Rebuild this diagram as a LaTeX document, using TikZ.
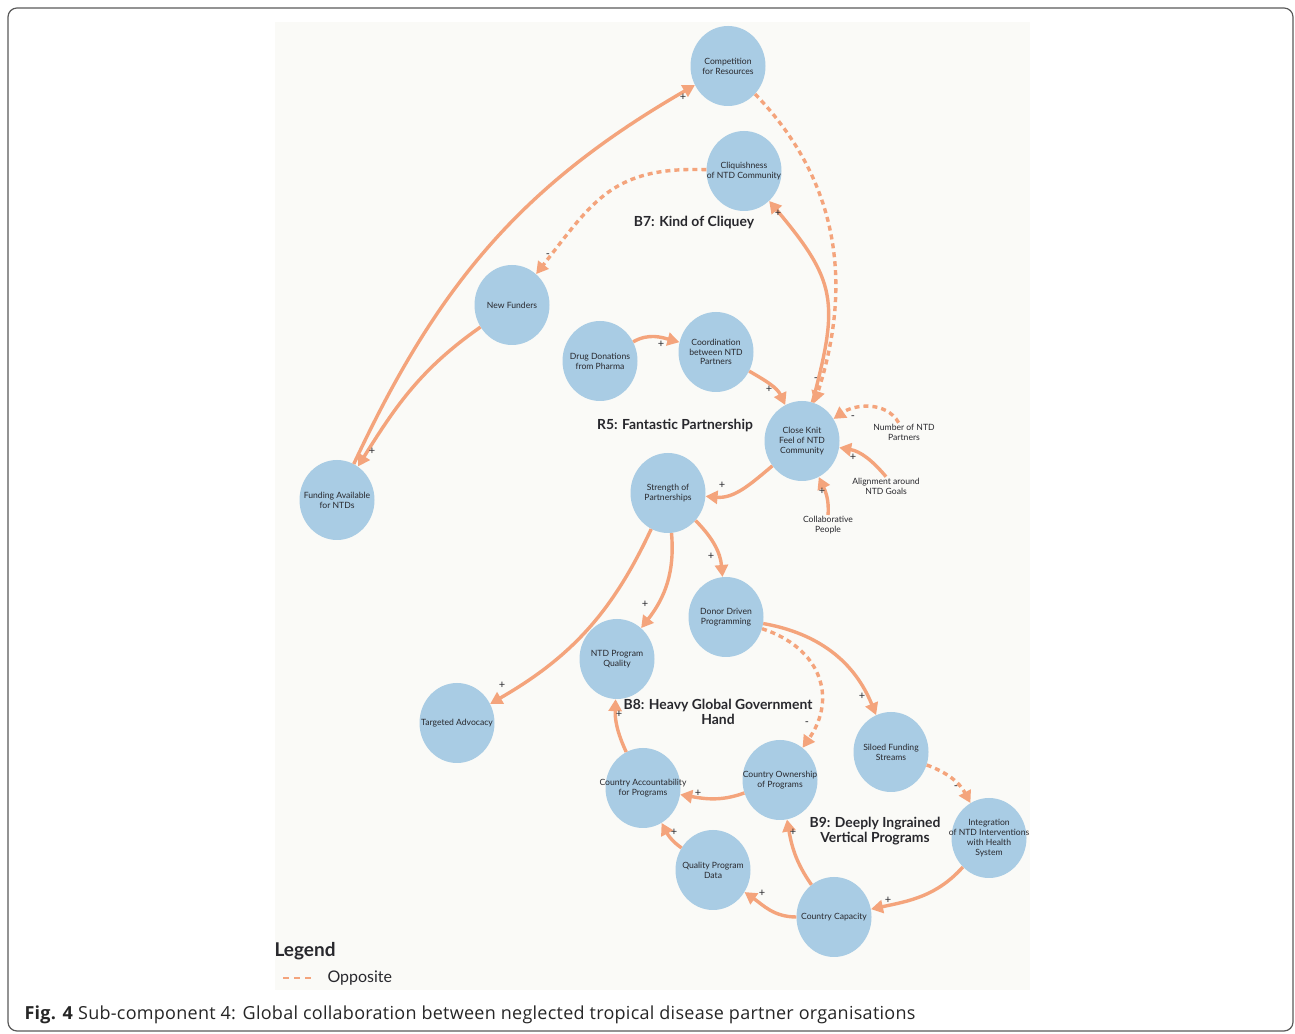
\documentclass[tikz,border=0pt]{standalone}
\usepackage{fontspec}
\setmainfont{Lato}
\newfontfamily\capfont[LetterSpace=1.5]{Open Sans}
\usetikzlibrary{arrows.meta,shapes.geometric}
\definecolor{bub}{RGB}{169,204,228}
\definecolor{arr}{RGB}{244,164,124}
\definecolor{txt}{RGB}{40,40,45}
\definecolor{panel}{RGB}{250,250,247}
\begin{document}
\begin{tikzpicture}[x=1pt, y=1pt,
  bubble/.style={ellipse, fill=bub, minimum width=75pt, minimum height=80pt, inner sep=0pt},
  every label/.style={align=center, font=\fontsize{8.6}{9.8}\selectfont, text=txt, inner sep=0pt},
  plain/.style={align=center, font=\fontsize{8.6}{9.8}\selectfont, text=txt, inner sep=1pt},
  link/.style={draw=arr, line width=3.4pt, -{Triangle[length=12pt,width=13pt]}},
  opp/.style={link, dash pattern=on 5pt off 4pt},
  pm/.style={font=\fontsize{11}{11}\selectfont, text=txt, inner sep=0pt},
  looptxt/.style={align=center, font=\fontsize{13.9}{15}\bfseries\selectfont, text=txt}]
\useasboundingbox (0,0) rectangle (1295,1033);
%frame and panel
\draw[black!65, line width=1.2pt, rounded corners=9pt] (8,2) rectangle (1293,1025);
\fill[panel] (275,43) rectangle (1030,1011);
%bubbles
\node[bubble, label=center:{Competition\\for Resources}] (CR) at (728,967) {};
\node[bubble, label=center:{Cliquishness\\of NTD Community}] (CQ) at (744,862) {};
\node[bubble, label=center:{New Funders}] (NF) at (512,728) {};
\node[bubble, label=center:{Drug Donations\\from Pharma}] (DD) at (600,672) {};
\node[bubble, label=center:{Coordination\\between NTD\\Partners}] (CO) at (716,681) {};
\node[bubble, label=center:{Close Knit\\Feel of NTD\\Community}] (CK) at (802,592) {};
\node[bubble, label=center:{Strength of\\Partnerships}] (SP) at (668,540) {};
\node[bubble, label=center:{Funding Available\\for NTDs}] (FA) at (337,533) {};
\node[bubble, label=center:{Donor Driven\\Programming}] (DP) at (726,416) {};
\node[bubble, label=center:{NTD Program\\Quality}] (PQ) at (617,374) {};
\node[bubble, label=center:{Targeted Advocacy}] (TA) at (457,310) {};
\node[bubble, label=center:{Country Accountability\\for Programs}] (CA) at (643,245) {};
\node[bubble, label=center:{Country Ownership\\of Programs}] (OW) at (780,253) {};
\node[bubble, label=center:{Siloed Funding\\Streams}] (SF) at (891,281) {};
\node[bubble, label=center:{Integration\\of NTD Interventions\\with Health\\System}] (IN) at (989,195) {};
\node[bubble, label=center:{Quality Program\\Data}] (QD) at (713,163) {};
\node[bubble, label=center:{Country Capacity}] (CC) at (834,116) {};
%outside factors
\node[plain] (NP) at (904,601) {Number of NTD\\Partners};
\node[plain] (AG) at (886,547) {Alignment around\\NTD Goals};
\node[plain] (CP) at (828,508) {Collaborative\\People};
%loop names
\node[looptxt] (B7) at (694,810) {B7: Kind of Cliquey};
\node[looptxt] (R5) at (675,607) {R5: Fantastic Partnership};
\node[looptxt] (B8) at (718,321) {B8: Heavy Global Government\\Hand};
\node[looptxt] (B9) at (875,202) {B9: Deeply Ingrained\\Vertical Programs};
%links
\draw[link] (FA) to[out=65,in=210] (CR);
\node[pm] (p1) at (683,936) {+};
\draw[link] (NF) to[out=215,in=58] (FA);
\node[pm] (p2) at (372,582) {+};
\draw[opp] (CQ) to[out=178,in=52,looseness=1.2] (NF);
\node[pm] (p3) at (548,777) {-};
\draw[opp] (CR) to[out=-46,in=72] (CK);
\node[pm] (p4) at (816,653) {-};
\draw[link] (CK) to[out=75,in=-50,looseness=1.3] (CQ);
\node[pm] (p5) at (778,820) {+};
\draw[link] (DD) to[out=30,in=165] (CO);
\node[pm] (p6) at (661,689) {+};
\draw[link] (CO) to[out=-30,in=115] (CK);
\node[pm] (p7) at (769,644) {+};
\draw[opp] (NP) to[out=120,in=35] (CK);
\node[pm] (p8) at (853,615) {-};
\draw[link] (AG.north) to[out=130,in=-10] (CK);
\node[pm] (p9) at (853,576) {+};
\draw[link] (CP.north) to[out=85,in=-65] (CK);
\node[pm] (p10) at (822,542) {+};
\draw[link] (CK) to[out=220,in=-5] (SP);
\node[pm] (p11) at (722,548) {+};
\draw[link] (SP) to[out=-45,in=95] (DP);
\node[pm] (p12) at (711,477) {+};
\draw[link] (SP) to[out=-85,in=52] (PQ);
\node[pm] (p13) at (645,429) {+};
\draw[link] (SP) to[out=245,in=30] (TA);
\node[pm] (p14) at (502,348) {+};
\draw[link] (DP) to[out=-10,in=112] (SF);
\node[pm] (p15) at (862,337) {+};
\draw[opp] (DP) to[out=-18,in=55,looseness=1.25] (OW);
\node[pm] (p16) at (807,309) {-};
\draw[opp] (SF) to[out=-20,in=118] (IN);
\node[pm] (p17) at (956,245) {-};
\draw[link] (IN) to[out=228,in=12] (CC);
\node[pm] (p18) at (888,133) {+};
\draw[link] (CC) to[out=180,in=-35] (QD);
\node[pm] (p19) at (762,140) {+};
\draw[link] (CC) to[out=125,in=-80] (OW);
\node[pm] (p20) at (793,201) {+};
\draw[link] (QD) to[out=145,in=-62] (CA);
\node[pm] (p21) at (674,201) {+};
\draw[link] (OW) to[out=200,in=-10] (CA);
\node[pm] (p22) at (698,240) {+};
\draw[link] (CA) to[out=115,in=-92] (PQ);
\node[pm] (p23) at (619,319) {+};
%legend
\node[anchor=west, font=\fontsize{19}{19}\bfseries\selectfont, text=txt] (LG) at (271,82) {Legend};
\coordinate (L1) at (283,55);
\coordinate (L2) at (313,55);
\draw[draw=arr, line width=1.6pt, dash pattern=on 6pt off 5pt] (L1) -- (L2);
\node[anchor=west, font=\fontsize{16}{16}\selectfont, text=txt] (LO) at (324,55) {Opposite};
%caption
\node[anchor=west, font=\capfont\fontsize{18}{18}\selectfont, text=black!85] (FIG) at (21,18) {\textbf{Fig. 4} Sub-component 4: Global collaboration between neglected tropical disease partner organisations};
\end{tikzpicture}
\end{document}
